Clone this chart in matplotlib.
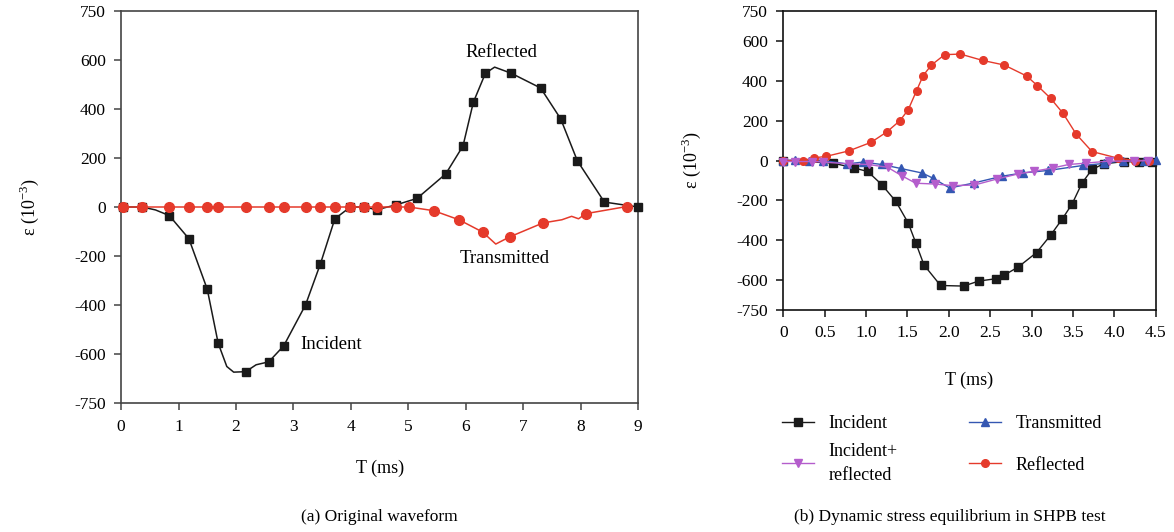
import matplotlib
matplotlib.use("Agg")
import matplotlib.pyplot as plt

plt.rcParams["font.family"] = ["Liberation Serif", "DejaVu Serif"]
plt.rcParams["font.size"] = 12
plt.rcParams["axes.unicode_minus"] = False
plt.rcParams["mathtext.fontset"] = "custom"
plt.rcParams["mathtext.rm"] = "Liberation Serif"

RED = "#e53a2b"
BLUE = "#3457b2"
PURPLE = "#b45dcc"
BLACK = "#1a1a1a"

#====== (a) original waveform ======
a_inc_t = [0.03, 0.37, 0.84, 1.18, 1.50, 1.69, 2.17, 2.57, 2.83, 3.21, 3.47, 3.72, 3.99, 4.23, 4.45, 4.79,
           5.15, 5.65, 5.95, 6.13, 6.34, 6.79, 7.30, 7.65, 7.94, 8.41, 9.0]
a_inc_e = [0, 0, -35, -129, -335, -555, -671, -631, -566, -399, -231, -48, 0, 0, -11, 9,
           35, 135, 249, 427, 545, 545, 485, 359, 188, 20, 0]
# line-only points (trough / peak of the trace between markers)
a_inc_xt = [0.60, 1.84, 1.96, 2.35, 6.50]
a_inc_xe = [-12, -650, -673, -643, 570]

a_tra_t = [0.03, 0.37, 0.84, 1.18, 1.50, 1.69, 2.17, 2.57, 2.83, 3.21, 3.47, 3.72, 3.99, 4.23, 4.45, 4.79,
           5.01, 5.44, 5.88, 6.29, 6.76, 7.34, 8.09, 8.80]
a_tra_e = [0, 0, 0, 0, 0, 0, 0, 0, 0, 0, 0, 0, 0, 0, 0, 0,
           0, -15, -52, -102, -122, -65, -27, 2]
a_tra_xt = [6.52, 7.67, 7.84, 7.96]
a_tra_xe = [-151, -52, -38, -48]

a_yticks = [-800, -600, -400, -200, 0, 200, 400, 600, 800]
a_ylabels = ["-750", "-600", "-400", "-200", "0", "200", "400", "600", "750"]

#====== (b) dynamic stress equilibrium ======
b_inc_t = [0, 0.60, 0.85, 1.02, 1.19, 1.36, 1.51, 1.60, 1.70, 1.90, 2.18, 2.36, 2.57, 2.67, 2.84, 3.06,
           3.23, 3.37, 3.49, 3.61, 3.73, 3.87, 4.12, 4.30, 4.45]
b_inc_e = [0, -13, -37, -55, -121, -205, -314, -412, -524, -627, -630, -605, -593, -575, -534, -462,
           -375, -294, -218, -113, -45, -17, -5, -8, -5]

b_tra_t = [0, 0.14, 0.31, 0.48, 0.77, 0.96, 1.19, 1.42, 1.68, 1.81, 2.01, 2.30, 2.64, 2.90, 3.20, 3.62,
           3.87, 4.11, 4.36, 4.50]
b_tra_e = [0, 3, 0, 0, -17, -8, -20, -40, -63, -89, -138, -113, -79, -62, -50, -25,
           -15, 0, 0, 3]

b_ir_t = [0, 0.14, 0.35, 0.48, 0.80, 1.03, 1.26, 1.43, 1.60, 1.83, 2.05, 2.31, 2.58, 2.84, 3.03, 3.26,
          3.45, 3.66, 3.93, 4.24, 4.41]
b_ir_e = [-5, -5, -5, -8, -17, -20, -34, -76, -114, -118, -126, -123, -93, -67, -54, -37,
          -20, -13, -3, -3, 0]

b_ref_t = [0, 0.24, 0.37, 0.52, 0.79, 1.06, 1.25, 1.41, 1.51, 1.61, 1.69, 1.79, 1.95, 2.14, 2.41, 2.67,
           2.94, 3.07, 3.23, 3.38, 3.54, 3.73, 4.04, 4.25, 4.42]
b_ref_e = [0, 0, 13, 21, 48, 91, 143, 200, 255, 350, 426, 479, 531, 534, 502, 479,
           424, 376, 312, 237, 132, 45, 12, 0, 0]

b_yticks = [-750, -600, -400, -200, 0, 200, 400, 600, 750]
b_xticks = [0, 0.5, 1.0, 1.5, 2.0, 2.5, 3.0, 3.5, 4.0, 4.5]


def merge(t, e, xt, xe):
    pts = sorted(zip(list(t) + list(xt), list(e) + list(xe)))
    return [p[0] for p in pts], [p[1] for p in pts]


def style_axes(ax, spine_color):
    for s in ax.spines.values():
        s.set_color(spine_color)
        s.set_linewidth(1.2)
    ax.tick_params(direction="out", length=5, width=1.1, color=spine_color,
                   top=False, right=False, pad=6, labelsize=12.5)


fig = plt.figure(figsize=(11.74, 5.32), dpi=100)

# ---- (a)
axA = fig.add_axes([0.1031, 0.2419, 0.4406, 0.738])
lt, le = merge(a_inc_t, a_inc_e, a_inc_xt, a_inc_xe)
axA.plot(lt, le, color=BLACK, lw=1.1, clip_on=False, zorder=3)
axA.plot(a_inc_t, a_inc_e, ls="none", marker="s", ms=6, color=BLACK, clip_on=False, zorder=3)
lt, le = merge(a_tra_t, a_tra_e, a_tra_xt, a_tra_xe)
axA.plot(lt, le, color=RED, lw=1.1, clip_on=False, zorder=4)
axA.plot(a_tra_t, a_tra_e, ls="none", marker="o", ms=7, color=RED, clip_on=False, zorder=4)
axA.set_xlim(0, 9)
axA.set_ylim(-800, 800)
axA.set_xticks(range(10))
axA.set_yticks(a_yticks)
axA.set_yticklabels(a_ylabels)
style_axes(axA, "#444444")
axA.set_xlabel("T (ms)", fontsize=13, labelpad=18)
axA.set_ylabel(r"ε (10$^{-3}$)", fontsize=13, labelpad=24)
axA.text(6.61, 631, "Reflected", ha="center", va="center", fontsize=13.5)
axA.text(6.67, -208, "Transmitted", ha="center", va="center", fontsize=13.5)
axA.text(3.12, -562, "Incident", ha="left", va="center", fontsize=13.5)
fig.text(0.3233, 0.028, "(a) Original waveform", ha="center", va="center", fontsize=12.5)

# ---- (b)
axB = fig.add_axes([0.6672, 0.4173, 0.3172, 0.562])
axB.plot(b_inc_t, b_inc_e, color=BLACK, lw=1.0, marker="s", ms=5.2, clip_on=False, label="Incident", zorder=3)
axB.plot(b_tra_t, b_tra_e, color=BLUE, lw=1.0, marker="^", ms=5.5, clip_on=False, label="Transmitted", zorder=4)
axB.plot(b_ir_t, b_ir_e, color=PURPLE, lw=1.0, marker="v", ms=5.5, clip_on=False, label="Incident+\nreflected", zorder=5)
axB.plot(b_ref_t, b_ref_e, color=RED, lw=1.0, marker="o", ms=5.5, clip_on=False, label="Reflected", zorder=4)
axB.set_xlim(0, 4.5)
axB.set_ylim(-750, 750)
axB.set_xticks(b_xticks)
axB.set_xticklabels(["0"] + [f"{v:.1f}" for v in b_xticks[1:]])
axB.set_yticks(b_yticks)
style_axes(axB, "#111111")
axB.set_xlabel("T (ms)", fontsize=13, labelpad=22)
axB.set_ylabel(r"ε (10$^{-3}$)", fontsize=13, labelpad=24)

# legend in two separate columns so the rows line up like the original
h, l = axB.get_legend_handles_labels()
leg_kw = dict(frameon=False, loc="upper left", fontsize=13, handlelength=1.8, handletextpad=0.8)
leg1 = fig.legend([h[0], h[2]], [l[0], l[2]], bbox_to_anchor=(0.652, 0.25), labelspacing=0.57, **leg_kw)
for txt in leg1.get_texts():
    txt.set_linespacing(1.55)
leg2 = fig.legend([h[1], h[3]], [l[1], l[3]], bbox_to_anchor=(0.8113, 0.25), labelspacing=1.35, **leg_kw)
fig.text(0.809, 0.028, "(b) Dynamic stress equilibrium in SHPB test", ha="center", va="center", fontsize=12.5)

fig.savefig("out.png", dpi=100)
